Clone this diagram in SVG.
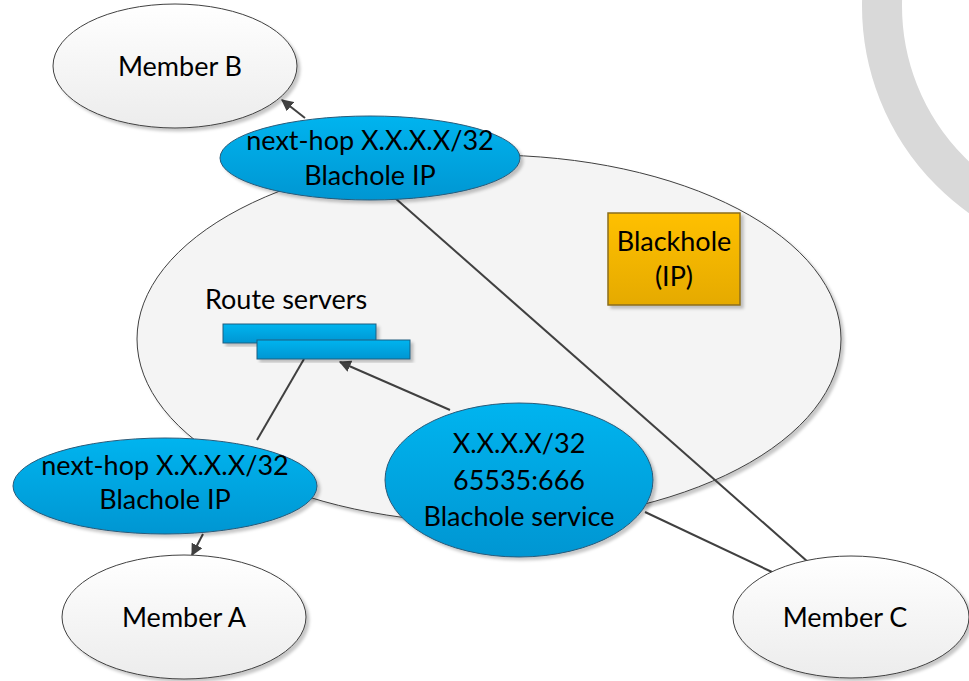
<svg xmlns="http://www.w3.org/2000/svg" width="969" height="681" viewBox="0 0 969 681">
<defs>
<linearGradient id="gGrey" x1="0" y1="0" x2="0" y2="1"><stop offset="0" stop-color="#ffffff"/><stop offset="1" stop-color="#ececec"/></linearGradient>
<linearGradient id="gBlue" x1="0" y1="0" x2="0" y2="1"><stop offset="0" stop-color="#00b4ef"/><stop offset="1" stop-color="#0096d2"/></linearGradient>
<linearGradient id="gGold" x1="0" y1="0" x2="0" y2="1"><stop offset="0" stop-color="#ffc000"/><stop offset="1" stop-color="#e5aa00"/></linearGradient>
<filter id="sh" x="-10%" y="-10%" width="130%" height="130%"><feDropShadow dx="3" dy="3" stdDeviation="1.5" flood-color="#000" flood-opacity="0.22"/></filter>
<marker id="arr" viewBox="0 0 10 10" refX="9" refY="5" markerWidth="6" markerHeight="6" orient="auto" markerUnits="strokeWidth"><path d="M0,0 L10,5 L0,10 z" fill="#404040"/></marker>
<style>
.grey{fill:url(#gGrey);stroke:#404040;stroke-width:1;filter:url(#sh)}
.blue{fill:url(#gBlue);stroke:#2a5a78;stroke-width:1;filter:url(#sh)}
.t{font-family:Lato,"Open Sans",sans-serif;font-size:27px;fill:#000;text-anchor:middle}
.c{stroke:#404040;stroke-width:2;fill:none}
</style>
</defs>
<rect width="969" height="681" fill="#fff"/>
<circle cx="1116" cy="6" r="234" fill="none" stroke="#d9d9d9" stroke-width="40"/>
<g id="ixp"><ellipse class="grey" cx="489" cy="339" rx="352" ry="184" style="fill:#f4f4f4"/></g>
<g id="connectors">
<line class="c" x1="305" y1="118" x2="282" y2="100" marker-end="url(#arr)"/>
<line class="c" x1="395" y1="198" x2="808" y2="562"/>
<line class="c" x1="304" y1="359" x2="257" y2="440"/>
<line class="c" x1="450" y1="410" x2="340" y2="362" marker-end="url(#arr)"/>
<line class="c" x1="203" y1="534" x2="192" y2="555" marker-end="url(#arr)"/>
<line class="c" x1="645" y1="512" x2="772" y2="572"/>
</g>
<g id="memberB"><ellipse class="grey" cx="175" cy="66" rx="122" ry="62"/><text class="t" x="180" y="76">Member B</text></g>
<g id="nexthopTop"><ellipse class="blue" cx="370" cy="158" rx="150" ry="42"/><text class="t" x="370" y="150">next-hop X.X.X.X/32</text><text class="t" x="370" y="185">Blachole IP</text></g>
<g id="blackhole"><rect x="608" y="213" width="132" height="92" fill="url(#gGold)" stroke="#8a6d1d" stroke-width="1.5" filter="url(#sh)"/><text class="t" x="674" y="251">Blackhole</text><text class="t" x="674" y="286">(IP)</text></g>
<g id="routeServers"><text class="t" x="205" y="309" style="text-anchor:start">Route servers</text>
<rect x="223" y="324" width="153" height="19" fill="url(#gBlue)" stroke="#1f5f80" stroke-width="1" filter="url(#sh)"/>
<rect x="257" y="340" width="153" height="19" fill="url(#gBlue)" stroke="#1f5f80" stroke-width="1" filter="url(#sh)"/></g>
<g id="nexthopLeft"><ellipse class="blue" cx="165" cy="486" rx="152" ry="48"/><text class="t" x="165" y="475">next-hop X.X.X.X/32</text><text class="t" x="165" y="509">Blachole IP</text></g>
<g id="service"><ellipse class="blue" cx="519" cy="480" rx="134" ry="77"/><text class="t" x="519" y="453">X.X.X.X/32</text><text class="t" x="519" y="490">65535:666</text><text class="t" x="519" y="526">Blachole service</text></g>
<g id="memberA"><ellipse class="grey" cx="184" cy="617" rx="122" ry="62"/><text class="t" x="184" y="627">Member A</text></g>
<g id="memberC"><ellipse class="grey" cx="851" cy="617" rx="118" ry="61"/><text class="t" x="845" y="627">Member C</text></g>
</svg>
